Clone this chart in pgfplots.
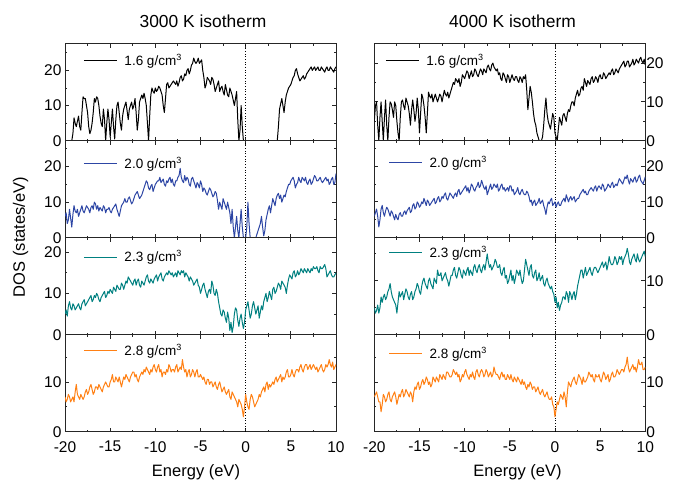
\documentclass[border=0pt]{standalone}
\usepackage{fontspec}
\setmainfont{Liberation Sans}
\usepackage{pgfplots}
\usepackage{pgfplotstable}
\pgfplotsset{compat=1.18}

\definecolor{dosblue}{RGB}{45,70,165}
\definecolor{dosteal}{RGB}{0,128,128}
\definecolor{dosorange}{RGB}{255,128,20}

% 3000 K isotherm: E, densities 1.6 / 2.0 / 2.3 / 2.8 g/cm3
\pgfplotstableread{
E d16 d20 d23 d28
-20 0 6 5 7
-19.875 0 7 6 6
-19.75 0 4 4.5 6.5
-19.625 0 5 7 7.5
-19.5 0 8 8 7
-19.375 0 5.5 6.5 6
-19.25 0 3 6 6.5
-19.125 2 6.5 7.5 7
-19 6.5 9 7 6
-18.875 5 7.5 6 8
-18.75 4 7 6.5 9.5
-18.625 5.5 8 7 7.5
-18.5 7 6 7.5 7
-18.375 4 7 6.5 6.5
-18.25 3 8 6 7.5
-18.125 8 9 7.5 7
-18 12.5 7.5 8 6.5
-17.875 12 7 8.5 7
-17.75 12 8 7 8
-17.625 10 9 7.5 8.5
-17.5 8 8.5 8 7.5
-17.375 4 8 8.5 8
-17.25 2 7 9 9
-17.125 3 8.5 9.5 9.5
-17 5 9 8 8.5
-16.875 8 8 8.5 7.5
-16.75 12 10 9.5 8
-16.625 11 9.5 9 9
-16.5 12.5 8 10 9
-16.375 12 9 9.5 8.5
-16.25 10 7.5 8.5 9.5
-16.125 7 8.5 8 9
-16 5 8 9 8.5
-15.875 4 7.5 9.5 8
-15.75 9 9 10 9
-15.625 6 8.5 10.5 9.5
-15.5 0 7 9 10
-15.375 5 8 9.5 9.5
-15.25 9 8 10.5 9
-15.125 6 8.5 10 9
-15 1 7.5 11 10
-14.875 5 7 10.5 10.5
-14.75 9 8 10 11.5
-14.625 4 8.5 11.5 10
-14.5 0.5 9 11 10
-14.375 6 9.5 10.5 11
-14.25 10 8 12 10.5
-14.125 11 7 11.5 10
-14 8 6 11 11
-13.875 5 7.5 11 10
-13.75 3 9 12.5 9
-13.625 7 9.5 12 10
-13.5 9 10 11 11
-13.375 10 11 12 10.5
-13.25 11 10 13 11.5
-13.125 8.5 10 12.5 11
-13 6 11 14 10.5
-12.875 9 11.5 13.5 10
-12.75 10 10.5 13 11
-12.625 11 9.5 12.5 11.5
-12.5 9 10 12 12
-12.375 10 11 13 12
-12.25 12 12 13.5 11
-12.125 8 12.5 12 11.5
-12 3 13 13 10.5
-11.875 6 12 13.5 10
-11.75 11 11 12 11
-11.625 12 11.5 11.5 11.5
-11.5 13 12 13 12
-11.375 12 13 12.5 11.5
-11.25 13.5 14 12 12.5
-11.125 12 15 13 12
-11 10 16 14 13
-10.875 5 15.5 14.5 12.5
-10.75 0 14 13 12
-10.625 7 13.5 12.5 11.5
-10.5 13 14.5 13.5 12.5
-10.375 15 15 13 12
-10.25 14 13 12.5 13
-10.125 13.5 14 13.5 13.5
-10 15 15 14 12.5
-9.875 14 15.5 14.5 12
-9.75 14.5 16 13 13
-9.625 15.5 16 14 13.5
-9.5 15 17 14.5 12
-9.375 14 15.5 15 12.5
-9.25 13 16 13.5 11
-9.125 10 16.5 13 12
-9 8 15 14 12
-8.875 12 14.5 14.5 11.5
-8.75 16 16 15 12.5
-8.625 16.5 15.5 14.5 12
-8.5 15 16.5 15.5 13.5
-8.375 15.5 17 15 13
-8.25 16 15.5 14.5 12
-8.125 16.5 16.5 15 12.5
-8 17 15 14 12.5
-7.875 16.5 14.5 14.5 12
-7.75 16 16 15 13
-7.625 17 16 14 13.5
-7.5 15.5 17 15.5 12
-7.375 16.5 17.5 15 12.5
-7.25 18 19.5 14.5 13
-7.125 18.5 17 15.5 12.5
-7 17 16 15 14.5
-6.875 17.5 15.5 15.5 13
-6.75 19 17.5 14 12
-6.625 18.5 16 15 12.5
-6.5 20 17 14.5 11
-6.375 20.5 16.5 14 12
-6.25 19 15 13 12.5
-6.125 20 14.5 14 11
-6 21.5 16.5 13.5 11.5
-5.875 22 17 13 12.5
-5.75 23.5 16 12 12
-5.625 22.5 15 12.5 11
-5.5 22 14 13 12
-5.375 22.5 15.5 13.5 12.5
-5.25 23.5 15 12 11
-5.125 22 14 11.5 11
-5 22.5 16 10 11.5
-4.875 23 15 11 11
-4.75 20 13 12 10.5
-4.625 18 14 12.5 11
-4.5 15 13.5 11 10
-4.375 16 12.5 10 9.5
-4.25 18 12 9 10.5
-4.125 17.5 13 10.5 10.5
-4 17 14 11 9.5
-3.875 16 13.5 10 10
-3.75 18 12.5 13 10
-3.625 17.5 11.5 12 9
-3.5 16 12 10 9.5
-3.375 14 13 9.5 10
-3.25 15 12.5 11 9
-3.125 16 10.5 10 8.5
-3 17 8 8 9.5
-2.875 14 10 6.5 10
-2.75 15 9 5 9
-2.625 15.5 8 4.5 8
-2.5 14 11 6 8.5
-2.375 13 10 5.5 9
-2.25 16 9 4 8
-2.125 14.5 8 3 7.5
-2 13 10 5.5 8
-1.875 12.5 8.5 4 8.5
-1.75 15 7 1 7
-1.625 14 4 3 6.5
-1.5 13 8 0.5 8
-1.375 11.5 3 2 7.5
-1.25 10 0 5 7
-1.125 12 3 6.5 6.5
-1 14 6 6 6
-0.875 6 2 3.5 5
-0.75 0 0 2 6.5
-0.625 3 4 4 6
-0.5 10 8 5 5.5
-0.375 4 3 3 4.5
-0.25 0 0 1.5 3
-0.125 0 0 3 5
0 0 0 6 7.5
0.125 0 3 7 6
0.25 0 10 8 5
0.375 0 4 6 4.5
0.5 0 0 4 6.5
0.625 0 0 5 7.5
0.75 0 0 7 7
0.875 0 0 8 6
1 0 0 6.5 5
1.125 0 0 5 5.5
1.25 0 1 6 6
1.375 0 2 7 6.5
1.5 0 3 4 7.5
1.625 0 4 5.5 7
1.75 0 6 7 8
1.875 0 3 6 8.5
2 0 0.5 8 9
2.125 0 2 9 8
2.25 0 5 10 9.5
2.375 0 6.5 8 10
2.5 0 8 9 8.5
2.625 0 9 10.5 9.5
2.75 0 7 9.5 9
2.875 0 9 8.5 9.5
3 0 11 11 10
3.125 0 10 11.5 9.5
3.25 0 9 10 10.5
3.375 0 11 10.5 11
3.5 0 12 11.5 10
3.625 4 12.5 12.5 10.5
3.75 9 11 12 11
3.875 10.5 12 11 11.5
4 12 10 13 10
4.125 10 11 12.5 11
4.25 8 12 12 10.5
4.375 11 11.5 11.5 11
4.5 13 13 10 12
4.625 14 14 12 12.5
4.75 15 15 13.5 11
4.875 15.5 15 14.5 11
5 16 16 14 11.5
5.125 17 16.5 13.5 12.5
5.25 18 17 15 11.5
5.375 18.5 16 15.5 11
5.5 20 14 14 12
5.625 20.5 15 14.5 12.5
5.75 19 15.5 15.5 12.5
5.875 18 17 14.5 12
6 17 16 15 13
6.125 17.5 15.5 16 13.5
6.25 18 17 15.5 12.5
6.375 18.5 16.5 15 12
6.5 17.5 16 16 13
6.625 18 17 15.5 13.5
6.75 19 15.5 15 13.5
6.875 19.5 15 16 12.5
7 20 16 15.5 13
7.125 20.5 16.5 15 13.5
7.25 21 15 16 12.5
7.375 20 15.5 15.5 13
7.5 20.5 16.5 16.5 13.5
7.625 21 17.5 16 13
7.75 20 17 16 12.5
7.875 20.5 16 16.5 13
8 21 16 15.5 12
8.125 20 16.5 15 12.5
8.25 20 17 16.5 13
8.375 21 16 16 13.5
8.5 20.5 15.5 16 12.5
8.625 20 16 16.5 12
8.75 19.5 16.5 17 12.5
8.875 20.5 17 16 13.5
9 21 16 14 13
9.125 20 16.5 14.5 13.5
9.25 20 15 15 14.5
9.375 21 15.5 15.5 13.5
9.5 20.5 16.5 14.5 13
9.625 20 17 14 14
9.75 19.5 15 14 12.5
9.875 20.5 15.5 14.5 13
10 21 18 15 13.5
}\tablethree

% 4000 K isotherm
\pgfplotstableread{
E d16 d20 d23 d28
-20 5 6 5 7
-19.875 9 7 4 7.5
-19.75 10 8 4.5 8
-19.625 4 6 5.5 7
-19.5 0 3 4 6
-19.375 6 5 5 6
-19.25 10 8 7 4
-19.125 5 9 6 5.5
-19 0 7 7 7.5
-18.875 6 6 7.5 7
-18.75 10.5 7.5 6.5 6
-18.625 4 8.5 7 6.5
-18.5 0 8 8 7.5
-18.375 6 7 8.5 8
-18.25 10 6 9.5 6.5
-18.125 9.5 7.5 8 6
-18 8 7 7 7
-17.875 6 6 6.5 7.5
-17.75 10 5 6 8
-17.625 9 6.5 5.5 7
-17.5 5 5.5 4 5.5
-17.375 2 5 6 6.5
-17.25 0 6.5 8 7.5
-17.125 6 7 7 7
-17 10 6 7.5 8
-16.875 10.5 6 8 8.5
-16.75 9 7 6.5 7
-16.625 8 7.5 7.5 7.5
-16.5 11 6.5 8.5 8.5
-16.375 10 7.5 8 8
-16.25 9 8 7 7.5
-16.125 7 8.5 6.5 7
-16 4 7 7.5 8
-15.875 8 7.5 8 7.5
-15.75 10.5 9 6.5 6
-15.625 8 9.5 7 8
-15.5 5 8 8 9
-15.375 7 8.5 8.5 8.5
-15.25 11 10 9.5 9.5
-15.125 8 9.5 9 10
-15 2 8.5 8 8.5
-14.875 7 9 7.5 9
-14.75 12 10 9 10
-14.625 11 9.5 10 10.5
-14.5 9 11 10.5 9.5
-14.375 6 10 9.5 10
-14.25 2 9 9 11
-14.125 7 10.5 8.5 10.5
-14 12.5 10 10 9.5
-13.875 11.5 9 10.5 10
-13.75 11 9.5 9.5 9
-13.625 12 10 9 9.5
-13.5 10 10.5 8.5 11
-13.375 11 11 10.5 10.5
-13.25 12 9.5 10 10
-13.125 11 10 9.5 11
-13 10 11 12 10.5
-12.875 11 11.5 11 10
-12.75 12 10 11 11.5
-12.625 11.5 10.5 11.5 11
-12.5 10 11.5 10 10.5
-12.375 11.5 11 10.5 11.5
-12.25 13 12 11 11
-12.125 12 12.5 11.5 10.5
-12 11.5 11 10.5 12
-11.875 12.5 10.5 10 12
-11.75 11 11.5 9 11.5
-11.625 12 12.5 10 11
-11.5 13 12 11 11
-11.375 14 11.5 11 11.5
-11.25 15 11 12 12.5
-11.125 14.5 12 12.5 12
-11 16 12.5 11 11.5
-10.875 15.5 11.5 10.5 12
-10.75 15 13 11.5 11
-10.625 16 13.5 12.5 11.5
-10.5 14 12 12 10
-10.375 15 12.5 11 10.5
-10.25 17 13 10.5 11.5
-10.125 16.5 13.5 12 11
-10 16 14 11.5 12
-9.875 17 14.5 11 12.5
-9.75 18 13 12 11.5
-9.625 17.5 14 12.5 11
-9.5 16 12.5 11 10.5
-9.375 17 13.5 12 11.5
-9.25 18 15 11.5 11
-9.125 16.5 14.5 11 12
-9 17 13.5 12.5 11
-8.875 18.5 13 13 10.5
-8.75 18 14 12 12
-8.625 17 14.5 11.5 12.5
-8.5 16.5 15.5 12.5 11.5
-8.375 17.5 14 13 11
-8.25 18.5 14.5 12 12
-8.125 18 16 11.5 12.5
-8 17 15 12.5 12
-7.875 18.5 14 13 11
-7.75 18 13.5 12 11.5
-7.625 17.5 14.5 13.5 12.5
-7.5 19 12 15 12
-7.375 19.5 13 13.5 11
-7.25 18.5 14 12.5 11.5
-7.125 18 15 13 12
-7 19.5 13.5 12 11
-6.875 20 14 12.5 11.5
-6.75 19 15 13 13
-6.625 18.5 14.5 14 12
-6.5 18 14 13.5 11.5
-6.375 18.5 15 12.5 11.5
-6.25 17 13 12.5 11
-6.125 17.5 13.5 13 10.5
-6 16 14.5 11.5 11.5
-5.875 15.5 15 11 12
-5.75 17.5 13.5 12 11
-5.625 17 14 12.5 11.5
-5.5 16 13 10.5 10.5
-5.375 15 13.5 11 10.5
-5.25 17 14 9.5 11.5
-5.125 16.5 13 10 11
-5 15 14.5 11 10.5
-4.875 16 14.5 12 11.5
-4.75 17 13 10 10.5
-4.625 16 13.5 11 10
-4.5 15.5 12 9.5 11
-4.375 16.5 12.5 10.5 10.5
-4.25 16.5 13 12 10
-4.125 15.5 14 11.5 11
-4 15 12.5 11 10.5
-3.875 16.5 12 12 10
-3.75 16 13 10.5 9.5
-3.625 15 13.5 9.5 10.5
-3.5 16.5 12.5 10 9.5
-3.375 16 12 12 10
-3.25 17 12 14 9
-3.125 13 13 13 8.5
-3 8 12.5 12 9.5
-2.875 11 11.5 11 9
-2.75 14 10 12.5 10
-2.625 12.5 10.5 13 9.5
-2.5 10 9 11 8.5
-2.375 7 10 10.5 9
-2.25 5 10.5 11.5 9
-2.125 4 9 12 8
-2 2 9.5 10 8.5
-1.875 1 10 10.5 9
-1.75 0 11 11.5 8
-1.625 0 9.5 10 7.5
-1.5 0 10 10.5 8
-1.375 1 10.5 11 8.5
-1.25 4 9 9.5 7.5
-1.125 8 8 9 7
-1 11 6.5 10 7.5
-0.875 7 8.5 10.5 8
-0.75 5 10 9.5 7
-0.625 4 9.5 9 6.5
-0.5 3 10.5 8.5 6.5
-0.375 5 11 9 7
-0.25 7 9 8 5.5
-0.125 6 9.5 7.5 5
0 2 10 6 3
0.125 1 8.5 7 4.5
0.25 0 9.5 5 6
0.375 3 10 6 5.5
0.5 6 9 4.5 6.5
0.625 5 9 5.5 7.5
0.75 4 10 6 7
0.875 6.5 10.5 7 6.5
1 7 11 7 8
1.125 6 10 6.5 7
1.25 5 12 8 5
1.375 7 11 7.5 8
1.5 8 10 6 10
1.625 7.5 11 8 9.5
1.75 9 11.5 7.5 9
1.875 10 10.5 6.5 10
2 10 11 7.5 10.5
2.125 9 11.5 8 11
2.25 11 10 6.5 10
2.375 12 10.5 7.5 9.5
2.5 13 11 9 10.5
2.625 11.5 11 10 11.5
2.75 12 12 11 11
2.875 13.5 12.5 12 10.5
3 14 13 12 9.5
3.125 13 13.5 10.5 11
3.25 16 12.5 11.5 10
3.375 15 13 12.5 10
3.5 14 12 11 10.5
3.625 15.5 12 11.5 11
3.75 15 13 12 12
3.875 14.5 13.5 12.5 11.5
4 16 14 11.5 11
4.125 16.5 13.5 11 11.5
4.25 15 13 12 10.5
4.375 15.5 14 12.5 10
4.5 16.5 14.5 12.5 11.5
4.625 16 13 12 11
4.75 15 14 11.5 11
4.875 16.5 14.5 12 11.5
5 17 14 12.5 10.5
5.125 16 13.5 13 10
5.25 16 15 13.5 11
5.375 17.5 14.5 12.5 12
5.5 17 13 13 11.5
5.625 16 13.5 13.5 10.5
5.75 16.5 14 12 11
5.875 17 15 13 11.5
6 17.5 14.5 14.5 10
6.125 17 14 13.5 10.5
6.25 18 15 13 11.5
6.375 18.5 15.5 13 12
6.5 17 14 13.5 11
6.625 17.5 14.5 14.5 11
6.75 18.5 15 14 11.5
6.875 18 14.5 13 12.5
7 17.5 15.5 13.5 12
7.125 18.5 16.5 14.5 11.5
7.25 19 16 14 12
7.375 19.5 15.5 14.5 12.5
7.5 20 15 13 12.5
7.625 20.5 16 14 12
7.75 19 17 14.5 13
7.875 19.5 16.5 15 13.5
8 20.5 17.5 16 15
8.125 20.5 16 15 13
8.25 19 15 13.5 12
8.375 19.5 16.5 13 12.5
8.5 20 16 14 13
8.625 21 15.5 14.5 13.5
8.75 19.5 16.5 15 12.5
8.875 20 17 14 13
9 21 15.5 13.5 12
9.125 20.5 16 15 13
9.25 20 17 14 14.5
9.375 21 17.5 13.5 13.5
9.5 21.5 16 14 13.5
9.625 20.5 15.5 14.5 14
9.75 20 15 15 12.5
9.875 21 16 15.5 12.5
10 19.5 17 14.5 13
}\tablefour

\newcommand{\cmc}{g/cm{\fontsize{9}{9}\selectfont\raisebox{1.05ex}{3}}}

\pgfplotsset{
  dos/.style={
    scale only axis, width=271pt, height=97pt,
    anchor=south west,
    xmin=-20, xmax=10, ymin=0,
    xtick={-20,-15,...,10}, minor x tick num=1,
    ytick distance=10, minor y tick num=1,
    tick align=inside, major tick length=4pt, minor tick length=2pt,
    axis line style={line width=1pt, black!85},
    every tick/.style={black!85, line width=0.9pt},
    tick label style={font=\fontsize{15.5}{18}\selectfont},
    xticklabel style={yshift=-6pt},
    /pgf/number format/assume math mode=true,
    legend style={draw=none, fill=none, inner sep=0pt, anchor=west,
      font=\fontsize{13.5}{16}\selectfont,
      nodes={inner sep=0pt},
      /tikz/every odd column/.append style={column sep=7pt}},
    legend image code/.code={\draw[#1] (0pt,0pt) -- (33pt,0pt);},
  },
  notx/.style={xticklabels={}},
  rightcol/.style={yticklabel pos=right, yticklabel style={xshift=-2.5pt}},
  curve/.style={line width=1pt, line join=round},
}

\newcommand{\zeroline}{\draw[black, dotted, line width=0.7pt]
  ({axis cs:0,0}|-{rel axis cs:0,0}) -- ({axis cs:0,0}|-{rel axis cs:0,1});}

\begin{document}
\begin{tikzpicture}
\useasboundingbox (0,0) rectangle (685pt,483pt);

% 3000 K column
\begin{axis}[dos, notx, at={(65pt,342.3pt)}, ymax=27.6,
  legend style={at={(0.0675,0.825)}}]
  \zeroline
  \addplot[curve, black] table[x=E, y=d16] {\tablethree};
  \addlegendentry{1.6 \cmc}
\end{axis}
\begin{axis}[dos, notx, at={(65pt,245.3pt)}, ymax=27.3,
  legend style={at={(0.0675,0.763)}}]
  \zeroline
  \addplot[curve, dosblue] table[x=E, y=d20] {\tablethree};
  \addlegendentry{2.0 \cmc}
\end{axis}
\begin{axis}[dos, notx, at={(65pt,148.3pt)}, ymax=23.5,
  legend style={at={(0.0675,0.80)}}]
  \zeroline
  \addplot[curve, dosteal] table[x=E, y=d23] {\tablethree};
  \addlegendentry{2.3 \cmc}
\end{axis}
\begin{axis}[dos, at={(65pt,51.3pt)}, ymax=19.5,
  legend style={at={(0.0675,0.838)}}]
  \zeroline
  \addplot[curve, dosorange] table[x=E, y=d28] {\tablethree};
  \addlegendentry{2.8 \cmc}
\end{axis}

% 4000 K column
\begin{axis}[dos, rightcol, notx, at={(374.3pt,342.3pt)}, ymax=25,
  legend style={at={(0.04,0.83)}}]
  \zeroline
  \addplot[curve, black] table[x=E, y=d16] {\tablefour};
  \addlegendentry{1.6 \cmc}
\end{axis}
\begin{axis}[dos, rightcol, notx, at={(374.3pt,245.3pt)}, ymax=27.1,
  legend style={at={(0.052,0.773)}}]
  \zeroline
  \addplot[curve, dosblue] table[x=E, y=d20] {\tablefour};
  \addlegendentry{2.0 \cmc}
\end{axis}
\begin{axis}[dos, rightcol, notx, at={(374.3pt,148.3pt)}, ymax=18,
  legend style={at={(0.052,0.85)}}]
  \zeroline
  \addplot[curve, dosteal] table[x=E, y=d23] {\tablefour};
  \addlegendentry{2.3 \cmc}
\end{axis}
\begin{axis}[dos, rightcol, at={(374.3pt,51.3pt)}, ymax=19.5,
  legend style={at={(0.052,0.804)}}]
  \zeroline
  \addplot[curve, dosorange] table[x=E, y=d28] {\tablefour};
  \addlegendentry{2.8 \cmc}
\end{axis}

% titles and axis labels
\node[font=\fontsize{17.4}{20}\selectfont] at (203pt,462pt) {3000 K isotherm};
\node[font=\fontsize{17.4}{20}\selectfont] at (512.5pt,462pt) {4000 K isotherm};
\node[font=\fontsize{16.5}{20}\selectfont] at (196pt,11pt) {Energy (eV)};
\node[font=\fontsize{16.5}{20}\selectfont] at (517.5pt,11pt) {Energy (eV)};
\node[font=\fontsize{16.5}{20}\selectfont, rotate=90] at (20.5pt,246pt) {DOS (states/eV)};
\end{tikzpicture}
\end{document}
